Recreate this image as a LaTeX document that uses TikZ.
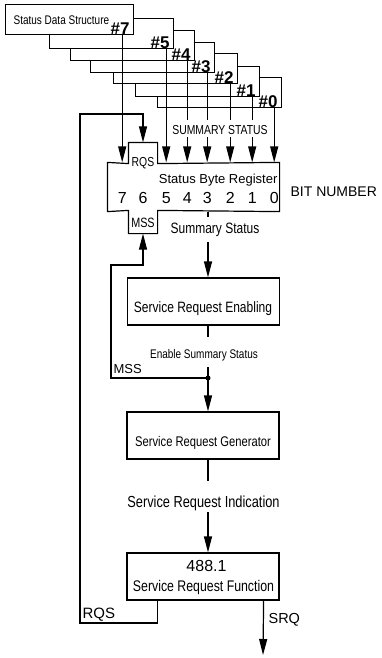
\documentclass[tikz,border=0pt]{standalone}
\usepackage{fontspec}
\setmainfont{Liberation Sans}
\newfontfamily\narrowfont[FakeStretch=0.8]{Liberation Sans}
\usetikzlibrary{arrows.meta}
\newcommand{\narrowsize}[1]{\narrowfont\fontsize{#1}{#1}\selectfont}
\newcommand{\plainsize}[1]{\fontsize{#1}{#1}\selectfont}
\begin{document}
\begin{tikzpicture}[x=1pt, y=-1pt, line width=1.2pt,
  sig/.style={-{Triangle[length=16pt,width=8pt]}},
  dsbox/.style={draw, fill=white, minimum width=124pt, minimum height=30pt, inner sep=0pt, anchor=north west},
  tag/.style={anchor=base east, inner sep=0pt, font=\bfseries\plainsize{17}},
  blk/.style={draw, minimum width=152pt, minimum height=47pt, inner sep=0pt},
  lbl/.style={anchor=base, inner sep=0pt},
  gap/.style={lbl, fill=white, inner xsep=1pt},
  digit/.style={lbl, font=\plainsize{16}}]
\useasboundingbox (0,0) rectangle (382,658);
\foreach \n/\x/\y in {0/157/77,1/135/66,2/113/53,3/90/42,4/70/30,5/49/18}{
  \node[dsbox] (ds\n) at (\x,\y) {};
  \node[tag] (tag\n) at ([shift={(-4,-1)}]ds\n.south east) {\#\n};
  \coordinate (in\n) at ([xshift=-8pt]ds\n.south east);
}
\node[dsbox, minimum width=128pt] (ds7) at (5,4) {};
\node[lbl, anchor=base west, font=\narrowsize{12.5}] (dstitle) at (13,25) {Status Data Structure};
\node[tag] (tag7) at ([shift={(-4,-1)}]ds7.south east) {\#7};
\coordinate (in7) at ([xshift=-12pt]ds7.south east);
\node[minimum width=171pt, minimum height=48pt, inner sep=0pt] (sbr) at (193.5,187) {};
\node[minimum width=28pt, minimum height=20pt, inner sep=0pt] (rqs) at (143,153) {};
\node[minimum width=28pt, minimum height=22pt, inner sep=0pt] (mss) at (143,222) {};
\draw (sbr.north west) -- (rqs.south west) -- (rqs.north west) -- (rqs.north east) -- (rqs.south east) -- (sbr.north east)
  -- (sbr.south east) -- (mss.north east) -- (mss.south east) -- (mss.south west) -- (mss.north west) -- (sbr.south west) -- cycle;
\node[lbl, font=\narrowsize{13}] (rqstxt) at (143,166) {RQS};
\node[lbl, font=\narrowsize{13.5}] (msstxt) at (143,227) {MSS};
\node[lbl, anchor=base east, font=\plainsize{13}] (sbrtxt) at (278,183) {Status Byte Register};
\coordinate (digitrow) at (0,203);
\foreach \n in {0,1,2,3,4,5,7}{
  \draw[sig] (in\n) -- (in\n |- sbr.north);
  \node[digit] (bit\n) at (in\n |- digitrow) {\n};
}
\node[digit] (bit6) at (rqs |- digitrow) {6};
\node[gap, text height=13pt, inner ysep=2pt, font=\narrowsize{13}] (sumall) at (220,135) {SUMMARY STATUS};
\node[lbl, anchor=base west, font=\plainsize{14}] (bitnum) at (290,196) {BIT NUMBER};
\node[blk] (sre) at (203.5,301.5) {};
\node[lbl, font=\narrowsize{15}] (sretxt) at (203,312.5) {Service Request Enabling};
\node[blk] (srg) at (203,435.5) {};
\node[lbl, font=\narrowsize{14}] (srgtxt) at (203,446) {Service Request Generator};
\node[blk] (srf) at (203,576.5) {};
\node[lbl, font=\plainsize{16}] (srfnum) at (206.5,571.5) {488.1};
\node[lbl, font=\narrowsize{15.4}] (srftxt) at (203.5,591.5) {Service Request Function};
\coordinate (spine) at (208,0);
\coordinate (junc) at (208,378);
\draw[sig] (spine |- sbr.south) -- (spine |- sre.north);
\node[gap, inner ysep=6pt, font=\narrowsize{15}] (sumstat) at (215,233) {Summary Status};
\draw[sig] (spine |- sre.south) -- (spine |- srg.north);
\node[gap, text height=15pt, inner ysep=6.4pt, font=\narrowsize{12.5}] (enasum) at (204,358) {Enable Summary Status};
\fill (junc) circle[radius=2.5pt];
\draw[sig] (spine |- srg.south) -- (spine |- srf.north);
\node[gap, text height=24pt, inner ysep=1.6pt, font=\narrowsize{16}] (sri) at (203.5,507) {Service Request Indication};
\coordinate (msscorner) at (111,265);
\draw[sig] (junc) -| (msscorner) -| (mss.south);
\node[lbl, anchor=base west, font=\plainsize{13}] (mssloop) at (113,373) {MSS};
\coordinate (rqsout) at ([xshift=31pt]srf.south west);
\coordinate (rqsfoot) at (80,623);
\coordinate (rqstop) at (80,114);
\draw[sig] (rqsout) |- (rqsfoot) -- (rqstop) -| (rqs.north);
\node[lbl, anchor=base west, font=\plainsize{15}] (rqsloop) at (82,618) {RQS};
\coordinate (srqout) at ([xshift=-16pt]srf.south east);
\coordinate (srqend) at (263,655);
\draw[sig] (srqout) -- (srqend);
\node[lbl, anchor=base west, font=\plainsize{14.5}] (srqtxt) at (268,623) {SRQ};
\end{tikzpicture}
\end{document}
